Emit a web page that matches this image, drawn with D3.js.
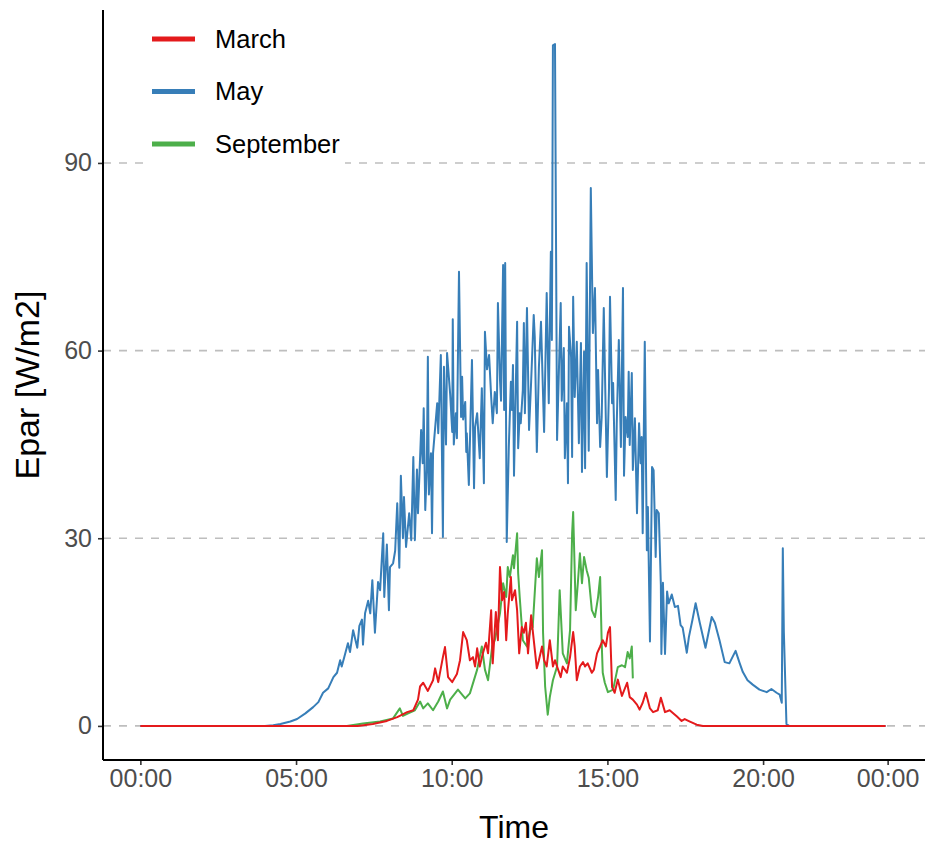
<!DOCTYPE html>
<html>
<head>
<meta charset="utf-8">
<script src="https://cdn.jsdelivr.net/npm/d3@7"></script>
<style>
  body { margin: 0; background: #fff; }
  svg text { font-family: "Liberation Sans", Arial, sans-serif; }
</style>
</head>
<body>
<script>
'use strict';

// Epar readings, [time of day, W/m2]
const march = [
  ["00:00",0],["06:59",0],["07:28",0.3],["07:55",0.8],["08:15",1.4],["08:34",2.2],["08:46",2.5],["08:55",4.2],
  ["08:59",6.3],["09:05",6.9],["09:14",5.6],["09:24",7.3],["09:28",9.2],["09:34",7.0],["09:43",11.0],["09:47",12.6],
  ["09:53",7.8],["10:01",7.0],["10:10",8.3],["10:16",10.5],["10:22",15.0],["10:29",13.7],["10:35",10.5],["10:41",11.0],
  ["10:45",9.5],["10:49",12.4],["10:54",9.5],["11:00",11.6],["11:06",13.3],["11:10",11.6],["11:16",18.5],["11:19",10.0],
  ["11:25",18.2],["11:29",13.7],["11:33",25.4],["11:37",20.1],["11:41",21.4],["11:45",13.7],["11:48",18.0],["11:54",23.8],
  ["11:56",20.1],["12:02",21.7],["12:06",18.5],["12:10",11.6],["12:15",15.8],["12:19",14.9],["12:23",16.5],["12:27",11.6],
  ["12:33",17.7],["12:36",15.3],["12:44",9.2],["12:48",10.5],["12:54",12.7],["12:58",10.5],["13:03",9.5],["13:09",13.7],
  ["13:15",9.5],["13:19",10.5],["13:25",9.0],["13:30",7.8],["13:34",9.5],["13:42",8.5],["13:48",11.0],["13:54",15.0],
  ["13:57",12.7],["14:01",7.3],["14:07",9.5],["14:13",10.2],["14:17",9.5],["14:22",10.0],["14:30",8.5],["14:34",9.0],
  ["14:40",11.6],["14:46",12.7],["14:51",13.7],["14:57",12.7],["15:01",14.9],["15:05",15.8],["15:09",6.2],["15:14",5.3],
  ["15:20",7.4],["15:28",4.8],["15:38",6.9],["15:43",4.6],["15:49",4.2],["15:57",3.4],["16:02",2.6],["16:08",3.7],
  ["16:14",5.3],["16:22",2.8],["16:28",2.2],["16:37",2.5],["16:43",4.5],["16:51",2.2],["17:00",2.5],["17:14",1.5],
  ["17:23",0.8],["17:29",1.1],["17:39",0.7],["17:52",0.2],["18:04",0],["23:56",0]
];

const may = [
  ["00:00",0],["04:00",0],["04:16",0.1],["04:30",0.3],["04:49",0.7],["05:02",1.1],["05:18",2.0],["05:33",3.0],
  ["05:43",3.8],["05:52",5.3],["06:02",6.0],["06:12",7.8],["06:19",8.5],["06:25",10.5],["06:28",9.5],["06:33",11.0],
  ["06:40",13.2],["06:44",11.8],["06:50",15.3],["06:58",12.5],["07:02",16.0],["07:07",17.0],["07:09",13.0],["07:13",18.0],
  ["07:19",20.0],["07:23",18.0],["07:27",23.3],["07:32",14.9],["07:38",23.0],["07:42",21.7],["07:48",30.8],["07:50",20.6],
  ["07:55",29.0],["07:59",18.5],["08:01",25.4],["08:07",26.0],["08:11",28.0],["08:15",35.6],["08:19",25.3],["08:22",40.0],
  ["08:26",30.0],["08:28",36.6],["08:32",28.6],["08:38",34.0],["08:42",29.7],["08:46",43.0],["08:49",29.7],["08:53",41.0],
  ["08:55",34.0],["09:01",47.3],["09:04",42.0],["09:06",50.8],["09:09",34.5],["09:12",41.0],["09:14",59.0],["09:16",37.0],
  ["09:20",43.6],["09:22",30.8],["09:24",43.6],["09:32",51.6],["09:34",46.8],["09:39",59.3],["09:43",30.2],["09:45",57.4],
  ["09:49",45.0],["09:51",59.6],["09:57",53.0],["10:01",47.0],["10:02",65.0],["10:04",45.0],["10:08",50.0],["10:10",46.0],
  ["10:14",72.6],["10:18",49.4],["10:20",55.8],["10:22",49.0],["10:26",51.8],["10:28",43.8],["10:29",46.8],["10:33",38.5],
  ["10:39",58.5],["10:43",38.0],["10:45",47.8],["10:49",50.0],["10:54",42.8],["10:58",54.0],["11:02",38.8],["11:04",63.0],
  ["11:08",57.0],["11:12",59.3],["11:16",52.6],["11:19",48.4],["11:23",53.4],["11:27",50.0],["11:29",67.6],["11:33",55.3],
  ["11:35",52.0],["11:39",73.7],["11:41",50.5],["11:43",74.0],["11:46",29.4],["11:50",44.6],["11:54",55.0],["11:56",50.5],
  ["11:58",57.7],["12:00",40.0],["12:06",64.6],["12:08",44.4],["12:11",50.0],["12:13",48.4],["12:17",53.7],["12:19",64.4],
  ["12:21",50.0],["12:25",66.8],["12:29",47.3],["12:33",55.0],["12:38",65.7],["12:40",62.2],["12:44",43.8],["12:48",57.4],
  ["12:52",64.6],["12:58",47.0],["13:03",69.2],["13:07",51.6],["13:11",75.8],["13:13",61.7],["13:15",108.8],["13:19",109.0],
  ["13:23",45.7],["13:30",67.6],["13:32",52.0],["13:36",60.4],["13:38",42.8],["13:42",51.6],["13:44",38.8],["13:46",63.8],
  ["13:50",59.0],["13:52",43.0],["13:54",68.6],["13:57",52.6],["14:01",61.4],["14:05",45.2],["14:09",61.2],["14:11",40.6],
  ["14:15",59.8],["14:17",41.2],["14:20",74.0],["14:24",44.0],["14:28",86.0],["14:32",62.8],["14:36",70.0],["14:40",48.4],
  ["14:42",56.9],["14:46",44.6],["14:49",49.4],["14:53",66.8],["14:59",39.8],["15:03",53.7],["15:05",68.6],["15:09",51.6],
  ["15:11",54.8],["15:16",36.1],["15:18",48.4],["15:22",61.7],["15:26",44.6],["15:30",70.0],["15:32",40.0],["15:35",49.4],
  ["15:39",46.2],["15:41",56.6],["15:43",44.9],["15:47",56.4],["15:49",40.9],["15:53",49.2],["15:55",41.4],["15:57",34.0],
  ["16:01",48.4],["16:04",42.0],["16:06",46.2],["16:08",30.8],["16:12",61.4],["16:16",28.1],["16:18",35.0],["16:22",13.5],
  ["16:26",41.4],["16:29",40.9],["16:33",27.0],["16:35",34.5],["16:39",34.0],["16:43",22.5],["16:44",11.5],["16:47",22.9],
  ["16:51",11.5],["16:55",21.5],["16:58",19.6],["17:04",21.0],["17:10",19.0],["17:16",19.2],["17:21",16.1],["17:25",15.7],
  ["17:33",11.7],["17:37",14.2],["17:44",17.0],["17:50",19.6],["17:58",16.5],["18:09",12.5],["18:21",17.4],["18:27",16.5],
  ["18:36",13.7],["18:46",10.2],["18:55",10.0],["19:07",12.0],["19:15",10.0],["19:21",8.6],["19:30",7.3],["19:40",6.6],
  ["19:53",5.8],["20:07",5.4],["20:16",5.9],["20:26",5.3],["20:32",5.0],["20:36",3.7],["20:38",28.4],["20:40",15.0],
  ["20:45",0.3],["20:50",0],["23:56",0]
];

const september = [
  ["06:30",0],["06:38",0],["07:09",0.4],["07:42",0.7],["08:07",1.2],["08:20",2.8],["08:26",1.6],["08:36",2.0],
  ["08:49",2.5],["08:59",3.9],["09:05",2.8],["09:14",3.6],["09:24",2.5],["09:34",3.9],["09:43",5.5],["09:51",2.8],
  ["09:57",4.2],["10:12",5.8],["10:26",4.4],["10:35",5.2],["10:49",9.0],["10:58",12.7],["11:04",9.0],["11:10",7.3],
  ["11:18",12.7],["11:23",13.7],["11:33",18.0],["11:39",22.8],["11:45",20.6],["11:48",25.4],["11:52",23.8],["11:58",27.3],
  ["12:00",25.2],["12:06",30.8],["12:08",24.4],["12:11",20.6],["12:17",13.7],["12:25",12.7],["12:31",15.3],["12:36",15.8],
  ["12:44",26.8],["12:48",23.8],["12:54",28.1],["12:56",14.9],["13:00",6.3],["13:05",1.8],["13:09",4.6],["13:15",7.3],
  ["13:23",9.5],["13:28",21.7],["13:34",11.6],["13:42",10.0],["13:48",15.3],["13:52",30.8],["13:54",34.2],["13:59",18.5],
  ["14:03",22.8],["14:07",27.6],["14:11",22.8],["14:15",27.0],["14:20",24.9],["14:24",23.7],["14:30",18.5],["14:36",17.4],
  ["14:42",20.6],["14:46",23.8],["14:49",13.3],["14:51",8.5],["14:55",6.9],["15:01",5.4],["15:11",5.8],["15:20",9.4],
  ["15:28",9.7],["15:34",9.4],["15:39",11.8],["15:43",10.8],["15:47",12.7],["15:49",7.6]
];

const months = ["March", "May", "September"];
const yTicks = [0, 30, 60, 90];
const xTickHours = [0, 5, 10, 15, 20, 24];

(function () {
  const width = 928, height = 845;
  const colors = { March: "#E41A1C", May: "#377EB8", September: "#4DAF4A" };
  const series = { March: march, May: may, September: september };

  // panel box
  const panel = { left: 103, right: 925, top: 10, bottom: 760 };

  const parseTime = d3.timeParse("%H:%M");
  const day0 = parseTime("00:00");
  const day1 = d3.timeDay.offset(day0, 1);

  const svg = d3.select("body").append("svg")
    .attr("width", width)
    .attr("height", height);

  // x scale with 5% expansion like ggplot
  const padX = (panel.right - panel.left) * 0.05 / 1.1;
  const xScale = d3.scaleTime()
    .domain([day0, day1])
    .range([panel.left + padX, panel.right - padX]);

  const yMax = d3.max([march, may, september], s => d3.max(s, d => d[1]));
  const yScale = d3.scaleLinear()
    .domain([-0.05 * yMax, 1.05 * yMax])
    .range([panel.bottom, panel.top]);

  // dashed horizontal grid
  svg.append("g")
    .selectAll("line")
    .data(yTicks)
    .enter()
    .append("line")
    .attr("x1", panel.left)
    .attr("x2", panel.right)
    .attr("y1", d => yScale(d))
    .attr("y2", d => yScale(d))
    .attr("stroke", "#BEBEBE")
    .attr("stroke-width", 1.6)
    .attr("stroke-dasharray", "8,8");

  // lines, March drawn last so it sits on top
  const line = d3.line()
    .x(d => xScale(parseTime(d[0])))
    .y(d => yScale(d[1]));

  ["September", "May", "March"].forEach(m => {
    svg.append("path")
      .datum(series[m])
      .attr("fill", "none")
      .attr("stroke", colors[m])
      .attr("stroke-width", 2)
      .attr("stroke-linejoin", "round")
      .attr("d", line);
  });

  // axes
  const xAxis = d3.axisBottom(xScale)
    .tickValues(xTickHours.map(h => d3.timeHour.offset(day0, h)))
    .tickFormat(d3.timeFormat("%H:%M"))
    .tickSize(5)
    .tickSizeOuter(0)
    .tickPadding(4);
  const gx = svg.append("g")
    .attr("transform", "translate(0," + panel.bottom + ")")
    .call(xAxis);

  const yAxis = d3.axisLeft(yScale)
    .tickValues(yTicks)
    .tickSize(5)
    .tickSizeOuter(0)
    .tickPadding(6);
  const gy = svg.append("g")
    .attr("transform", "translate(" + panel.left + ",0)")
    .call(yAxis);

  [gx, gy].forEach(g => {
    g.select(".domain").remove();
    g.selectAll(".tick line").attr("stroke", "#333").attr("stroke-width", 1.6);
    g.selectAll(".tick text")
      .attr("fill", "#4D4D4D")
      .style("font-size", "25px");
  });

  // axis lines across the full panel
  svg.append("line")
    .attr("x1", panel.left).attr("x2", panel.right)
    .attr("y1", panel.bottom).attr("y2", panel.bottom)
    .attr("stroke", "#000").attr("stroke-width", 2);
  svg.append("line")
    .attr("x1", panel.left).attr("x2", panel.left)
    .attr("y1", panel.top).attr("y2", panel.bottom)
    .attr("stroke", "#000").attr("stroke-width", 2);

  // axis titles
  svg.append("text")
    .attr("x", (panel.left + panel.right) / 2)
    .attr("y", 838)
    .attr("text-anchor", "middle")
    .style("font-size", "32px")
    .text("Time");

  svg.append("text")
    .attr("transform", "translate(39," + (panel.top + panel.bottom) / 2 + ")rotate(-90)")
    .attr("text-anchor", "middle")
    .style("font-size", "34px")
    .text("Epar [W/m2]");

  // legend inside the panel, top left
  const legend = svg.append("g");
  legend.append("rect")
    .attr("x", 143).attr("y", 12)
    .attr("width", 202).attr("height", 160)
    .attr("fill", "#fff");

  const legendY = d3.scalePoint()
    .domain(months)
    .range([39, 144]);

  months.forEach(m => {
    legend.append("line")
      .attr("x1", 152).attr("x2", 195)
      .attr("y1", legendY(m)).attr("y2", legendY(m))
      .attr("stroke", colors[m])
      .attr("stroke-width", 5);
    legend.append("text")
      .attr("x", 215)
      .attr("y", legendY(m))
      .attr("dy", "0.35em")
      .style("font-size", "25.5px")
      .text(m);
  });
})();
</script>
</body>
</html>
